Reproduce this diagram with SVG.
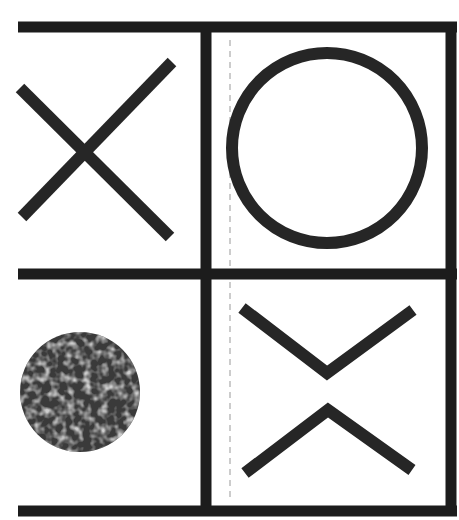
<svg xmlns="http://www.w3.org/2000/svg" width="459" height="520" viewBox="0 0 459 520">
  <style>
    .bar { stroke: #1c1c1c; stroke-width: 11; fill: none; }
    .mark { stroke: #262626; stroke-width: 12; fill: none; stroke-linecap: butt; stroke-linejoin: miter; }
    .faint { stroke: #cccccc; stroke-width: 2; stroke-dasharray: 6 5; fill: none; }
  </style>
  <defs>
    <filter id="mottle" x="0" y="0" width="100%" height="100%">
      <feTurbulence type="fractalNoise" baseFrequency="0.12" numOctaves="2" seed="7" result="n"/>
      <feColorMatrix in="n" type="matrix" values="0 0 0 0 0.62  0 0 0 0 0.62  0 0 0 0 0.62  0 0 0 2.6 -1.1" result="light"/>
      <feComposite in="light" in2="SourceGraphic" operator="in"/>
    </filter>
    <clipPath id="discclip"><circle cx="80" cy="392" r="60"/></clipPath>
  </defs>
  <rect width="459" height="520" fill="#ffffff"/>
  <g id="grid">
    <line class="faint" x1="230" y1="40" x2="230" y2="500"/>
    <line class="bar" x1="18" y1="27" x2="457" y2="27"/>
    <line class="bar" x1="451" y1="22" x2="451" y2="516"/>
    <line class="bar" x1="206" y1="22" x2="206" y2="516"/>
    <line class="bar" x1="18" y1="274" x2="457" y2="274"/>
    <line class="bar" x1="18" y1="511" x2="457" y2="511"/>
  </g>
  <g id="cross-top-left">
    <line class="mark" x1="20" y1="88" x2="170" y2="237"/>
    <line class="mark" x1="172" y1="62" x2="22" y2="217"/>
  </g>
  <g id="ring-top-right">
    <circle class="mark" cx="327" cy="148" r="95"/>
  </g>
  <g id="disc-bottom-left">
    <circle cx="80" cy="392" r="60" fill="#3a3a3a"/>
    <rect x="20" y="332" width="120" height="120" fill="#000" filter="url(#mottle)" clip-path="url(#discclip)"/>
  </g>
  <g id="chevrons-bottom-right">
    <polyline class="mark" points="242,308 327,373 413,310"/>
    <polyline class="mark" points="245,473 328,410 412,470"/>
  </g>
</svg>
